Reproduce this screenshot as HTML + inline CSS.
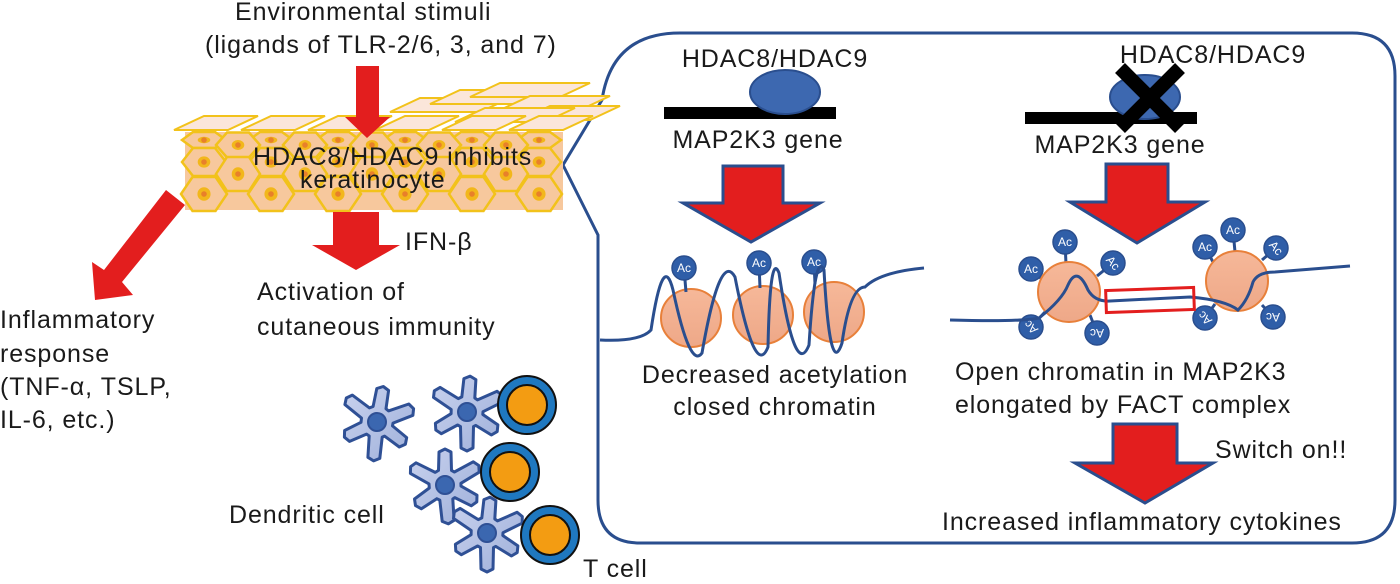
<!DOCTYPE html>
<html><head><meta charset="utf-8"><style>
body{margin:0;background:#fff}
svg{display:block}
text{font-family:"Liberation Sans",sans-serif;fill:#1a1a1a}
.t{font-size:25px;letter-spacing:0.9px}
.ac{font-size:12px;fill:#fff;text-anchor:middle}
</style></head><body>
<svg id="s" width="1400" height="584" viewBox="0 0 1400 584" xmlns="http://www.w3.org/2000/svg">
<defs>
<linearGradient id="dg" x1="0" y1="0" x2="1" y2="1"><stop offset="0" stop-color="#c9d2ee"/><stop offset="1" stop-color="#9fb0da"/></linearGradient>
<linearGradient id="ng" x1="0" y1="0" x2="0" y2="1"><stop offset="0" stop-color="#f6b899"/><stop offset="1" stop-color="#eea888"/></linearGradient>
</defs>
<path d="M680 33 L1352 33 Q1395 33 1395 76 L1395 500 Q1395 543 1352 543 L640 543 Q598 543 598 500 L598 235 L563 165 L602 100 Q612 33 680 33 Z" fill="none" stroke="#2a4e8e" stroke-width="3"/>
<g id="kera"></g>
<text class="t" x="235" y="20">Environmental stimuli</text>
<text class="t" x="205" y="53">(ligands of TLR-2/6, 3, and 7)</text>
<polygon points="356,66 379,66 379,117 390,117 367,138 345,117 356,117" fill="#e31e1e"/>
<text class="t" x="253" y="165">HDAC8/HDAC9 inhibits</text>
<text class="t" x="300" y="188">keratinocyte</text>
<polygon points="166,190 185,205 122,282 133,295 95,300 92,262 104,270" fill="#e31e1e"/>
<polygon points="333,212 379,212 379,245 400,245 356,270 312,245 333,245" fill="#e31e1e"/>
<text class="t" x="405" y="250">IFN-β</text>
<text class="t" x="257" y="300">Activation of</text>
<text class="t" x="257" y="335">cutaneous immunity</text>
<text class="t" x="0" y="328">Inflammatory</text>
<text class="t" x="0" y="362">response</text>
<text class="t" x="0" y="395">(TNF-α, TSLP,</text>
<text class="t" x="0" y="428">IL-6, etc.)</text>
<g id="cells"></g>
<text class="t" x="229" y="523">Dendritic cell</text>
<text class="t" x="583" y="577">T cell</text>

<text class="t" x="775" y="67" text-anchor="middle">HDAC8/HDAC9</text>
<rect x="664" y="107" width="172" height="12" fill="#000"/>
<ellipse cx="785" cy="92" rx="35" ry="22" fill="#3d68b0" stroke="#2a4e8e" stroke-width="2"/>
<text class="t" x="758" y="148" text-anchor="middle">MAP2K3 gene</text>
<polygon points="723,166 783,166 783,203 820,203 751,242 683,203 723,203" fill="#e31e1e" stroke="#2a4e8e" stroke-width="3"/>
<g fill="url(#ng)" stroke="#e8803a" stroke-width="2">
<ellipse cx="691" cy="318" rx="30" ry="29"/><ellipse cx="763" cy="315" rx="30" ry="29"/><ellipse cx="834" cy="312" rx="30" ry="30"/></g>
<g id="acL"></g>
<path d="M600 340 Q640 342 651 330 Q663 250 673 290 Q690 370 702 353 Q720 250 735 277 Q755 380 768 347 Q770 250 779 273 Q795 380 809 345 Q815 250 824 270 Q830 380 842 343 Q850 287 865 287 Q880 272 924 268" fill="none" stroke="#2a4e8e" stroke-width="3"/>
<text class="t" x="775" y="383" text-anchor="middle">Decreased acetylation</text>
<text class="t" x="775" y="415" text-anchor="middle">closed chromatin</text>

<text class="t" x="1213" y="63" text-anchor="middle">HDAC8/HDAC9</text>
<rect x="1025" y="112" width="172" height="12" fill="#000"/>
<ellipse cx="1145" cy="97" rx="35" ry="22" fill="#3d68b0" stroke="#2a4e8e" stroke-width="2"/>
<g stroke="#000" stroke-width="14"><line x1="1120" y1="68" x2="1180" y2="128"/><line x1="1180" y1="68" x2="1120" y2="128"/></g>
<text class="t" x="1120" y="153" text-anchor="middle">MAP2K3 gene</text>
<polygon points="1106,164 1168,164 1168,202 1205,202 1137,243 1070,202 1106,202" fill="#e31e1e" stroke="#2a4e8e" stroke-width="3"/>
<g id="acR"></g>
<g fill="url(#ng)" stroke="#e8803a" stroke-width="2">
<ellipse cx="1069" cy="292" rx="31" ry="30"/><ellipse cx="1237" cy="281" rx="31" ry="30"/></g>
<path d="M950 320 Q1020 322 1039 318 Q1062 300 1068 285 Q1077 265 1088 290 Q1095 302 1110 301 L1190 297 Q1225 300 1238 310 Q1248 300 1253 282 Q1258 272 1275 272 L1350 266" fill="none" stroke="#2a4e8e" stroke-width="3"/>
<rect x="1106" y="289" width="88" height="22" fill="none" stroke="#e31e1e" stroke-width="3" transform="rotate(-2 1150 300)"/>
<text class="t" x="955" y="380">Open chromatin in MAP2K3</text>
<text class="t" x="955" y="413">elongated by FACT complex</text>
<polygon points="1113,424 1177,424 1177,463 1213,463 1145,503 1075,463 1113,463" fill="#e31e1e" stroke="#2a4e8e" stroke-width="3"/>
<text class="t" x="1215" y="458">Switch on!!</text>
<text class="t" x="942" y="530">Increased inflammatory cytokines</text>
</svg>
<script>
var NS="http://www.w3.org/2000/svg";
function el(p,n,a){var e=document.createElementNS(NS,n);for(var k in a)e.setAttribute(k,a[k]);p.appendChild(e);return e;}
var K=document.getElementById("kera");
function flat(x,y,w,d){el(K,"polygon",{points:(x)+","+y+" "+(x+d)+","+(y-14)+" "+(x+d+w)+","+(y-14)+" "+(x+w)+","+y,fill:"#fbe6da",stroke:"#f2c21b","stroke-width":2});}
flat(390,112,90,30);flat(430,104,90,30);flat(470,97,90,30);flat(500,110,80,30);flat(520,120,70,30);flat(455,122,90,30);
for(var i=0;i<6;i++){flat(174+67*i,130,54,30);}
el(K,"polygon",{points:"185,132 563,132 563,210 185,210",fill:"#f7c89d"});
function hex(cx,cy,w,h){var pts=[[cx-w/2,cy],[cx-w/4,cy-h/2],[cx+w/4,cy-h/2],[cx+w/2,cy],[cx+w/4,cy+h/2],[cx-w/4,cy+h/2]];
el(K,"polygon",{points:pts.map(function(p){return p.join(",")}).join(" "),fill:"#f7c89d",stroke:"#f2c21b","stroke-width":2.5});
el(K,"ellipse",{cx:cx,cy:cy,rx:w/7,ry:Math.min(h/5,7),fill:"#f2b71b"});el(K,"circle",{cx:cx,cy:cy,r:2.8,fill:"#e8802a"});}
for(var i=0;i<6;i++){var x=204+67*i;hex(x,140,44,16);hex(x,162,44,28);hex(x,194,46,34);}
for(var i=0;i<6;i++){var x=238+67*i;if(x>560)continue;hex(x,145,44,25);hex(x,174,44,34);}
function ac(g,x,y,sx,sy,rot){var G=document.getElementById(g);
el(G,"line",{x1:x,y1:y,x2:sx,y2:sy,stroke:"#2a4e8e","stroke-width":3});
el(G,"circle",{cx:x,cy:y,r:12,fill:"#2f5ea8",stroke:"#2a4e8e","stroke-width":1.5});
var t=el(G,"text",{x:x,y:y+4,"class":"ac",transform:"rotate("+(rot||0)+" "+x+" "+y+")"});t.textContent="Ac";}
ac("acL",684,268,686,292);ac("acL",759,263,760,288);ac("acL",814,262,815,284);
ac("acR",1031,269,1045,282);ac("acR",1065,242,1066,264);ac("acR",1113,263,1097,276,50);ac("acR",1031,327,1045,312,225);ac("acR",1097,333,1090,315,180);
ac("acR",1205,247,1213,262);ac("acR",1233,230,1235,252);ac("acR",1276,248,1262,260,50);ac("acR",1205,318,1215,304,225);ac("acR",1273,317,1262,305,180);
var C=document.getElementById("cells");
function dc(cx,cy,rot){var arms=[0,60,118,175,235,298];var pts=[];
arms.forEach(function(a,i){var r=(a+rot)*Math.PI/180;var ux=Math.cos(r),uy=Math.sin(r),px=-uy,py=ux;var L=33+(i%2)*3;
pts.push([cx+16*Math.cos(r-0.42),cy+16*Math.sin(r-0.42)]);
pts.push([cx+ux*L+px*-6,cy+uy*L+py*-6]);
pts.push([cx+ux*(L+3),cy+uy*(L+3)]);
pts.push([cx+ux*L+px*6,cy+uy*L+py*6]);
pts.push([cx+16*Math.cos(r+0.42),cy+16*Math.sin(r+0.42)]);});
el(C,"polygon",{points:pts.map(function(p){return p[0].toFixed(1)+","+p[1].toFixed(1)}).join(" "),fill:"url(#dg)",stroke:"#2f5095","stroke-width":3,"stroke-linejoin":"round"});
el(C,"circle",{cx:cx,cy:cy,r:9,fill:"#3b67b0",stroke:"#2f5095","stroke-width":2});}
function tc(x,y){el(C,"circle",{cx:x,cy:y,r:29,fill:"#1f78c0",stroke:"#111","stroke-width":2});el(C,"circle",{cx:x,cy:y,r:20,fill:"#f39c12",stroke:"#111","stroke-width":2});}
dc(377,422,-80);dc(467,412,-85);tc(527,405);dc(445,485,-90);tc(510,472);dc(487,533,-85);tc(550,535);
</script>
</body></html>
